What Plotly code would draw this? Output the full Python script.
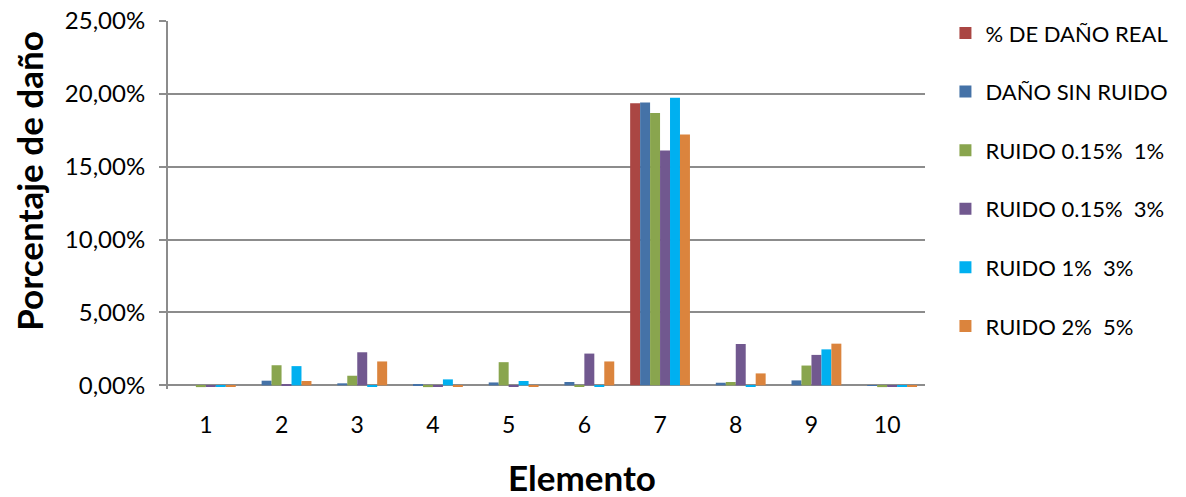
import plotly.graph_objects as go

# Elementos estructurales
elementos = ["1", "2", "3", "4", "5", "6", "7", "8", "9", "10"]

# Porcentaje de daño por serie (fracción)
dano_real = [0.0, 0.0, 0.0, 0.0, 0.0, 0.0, 0.1935, 0.0, 0.0, 0.0]
sin_ruido = [0.0, 0.0032, 0.0014, 0.0005, 0.0020, 0.0023, 0.1940, 0.0018, 0.0034, -0.0002]
ruido_015_1 = [-0.0012, 0.0138, 0.0066, -0.0012, 0.0159, -0.0010, 0.1869, 0.0023, 0.0136, -0.0012]
ruido_015_3 = [-0.0010, 0.0009, 0.0227, -0.0010, -0.0010, 0.0218, 0.1612, 0.0284, 0.0209, -0.0010]
ruido_1_3 = [-0.0010, 0.0132, -0.0010, 0.0041, 0.0030, -0.0010, 0.1973, -0.0010, 0.0247, -0.0010]
ruido_2_5 = [-0.0010, 0.0030, 0.0164, -0.0010, -0.0010, 0.0164, 0.1721, 0.0082, 0.0286, -0.0010]

series = [
    ("% DE DAÑO REAL", dano_real, "#AA4643"),
    ("DAÑO SIN RUIDO", sin_ruido, "#4572A7"),
    ("RUIDO 0.15%  1%", ruido_015_1, "#89A54E"),
    ("RUIDO 0.15%  3%", ruido_015_3, "#71588F"),
    ("RUIDO 1%  3%", ruido_1_3, "#00B0F0"),
    ("RUIDO 2%  5%", ruido_2_5, "#DB843D"),
]

FONT = "Lato, 'Open Sans', sans-serif"
GRIS = "#8c8c8c"

fig = go.Figure()
for i, (nombre, valores, color) in enumerate(series):
    fig.add_trace(go.Bar(
        x=elementos, y=valores, name=nombre,
        marker=dict(color=color, line=dict(width=0)),
        legendgroup=f"g{i}",
    ))

fig.update_layout(
    width=1186, height=497,
    margin=dict(l=168, r=261, t=18, b=108),
    paper_bgcolor="white", plot_bgcolor="white",
    barmode="group", bargap=0.21, bargroupgap=0,
    separators=",.",
    font=dict(family=FONT, size=22, color="#000000"),
    showlegend=True,
    legend=dict(
        x=1.027, y=1.024, xanchor="left", yanchor="top",
        font=dict(family=FONT, size=22, color="#000000"),
        tracegroupgap=27, itemwidth=30, maxheight=480,
        bgcolor="rgba(0,0,0,0)",
    ),
    xaxis=dict(
        type="category", automargin=False,
        showline=False,
        ticks="", ticklabelstandoff=20,
        tickfont=dict(family=FONT, size=23),
        showgrid=False, zeroline=False,
    ),
    yaxis=dict(
        automargin=False,
        range=[-0.0025, 0.25], tickvals=[0, 0.05, 0.10, 0.15, 0.20, 0.25], tickformat=".2%",
        showline=True, linecolor=GRIS, linewidth=2,
        ticks="outside", ticklen=7, tickcolor=GRIS, tickwidth=1.5,
        ticklabelstandoff=9,
        showgrid=True, gridcolor=GRIS, gridwidth=1.5,
        zeroline=True, zerolinecolor=GRIS, zerolinewidth=2,
        tickfont=dict(family=FONT, size=24),
    ),
    annotations=[
        dict(text="<b>Elemento</b>", xref="paper", yref="paper",
             x=0.547, y=-0.24, xanchor="center", yanchor="middle",
             showarrow=False, font=dict(family=FONT, size=35)),
        dict(text="<b>Porcentaje de daño</b>", xref="paper", yref="paper",
             x=-0.183, y=0.567, xanchor="center", yanchor="middle", textangle=-90,
             showarrow=False, font=dict(family=FONT, size=35)),
    ],
)

fig.write_html("out.html")
